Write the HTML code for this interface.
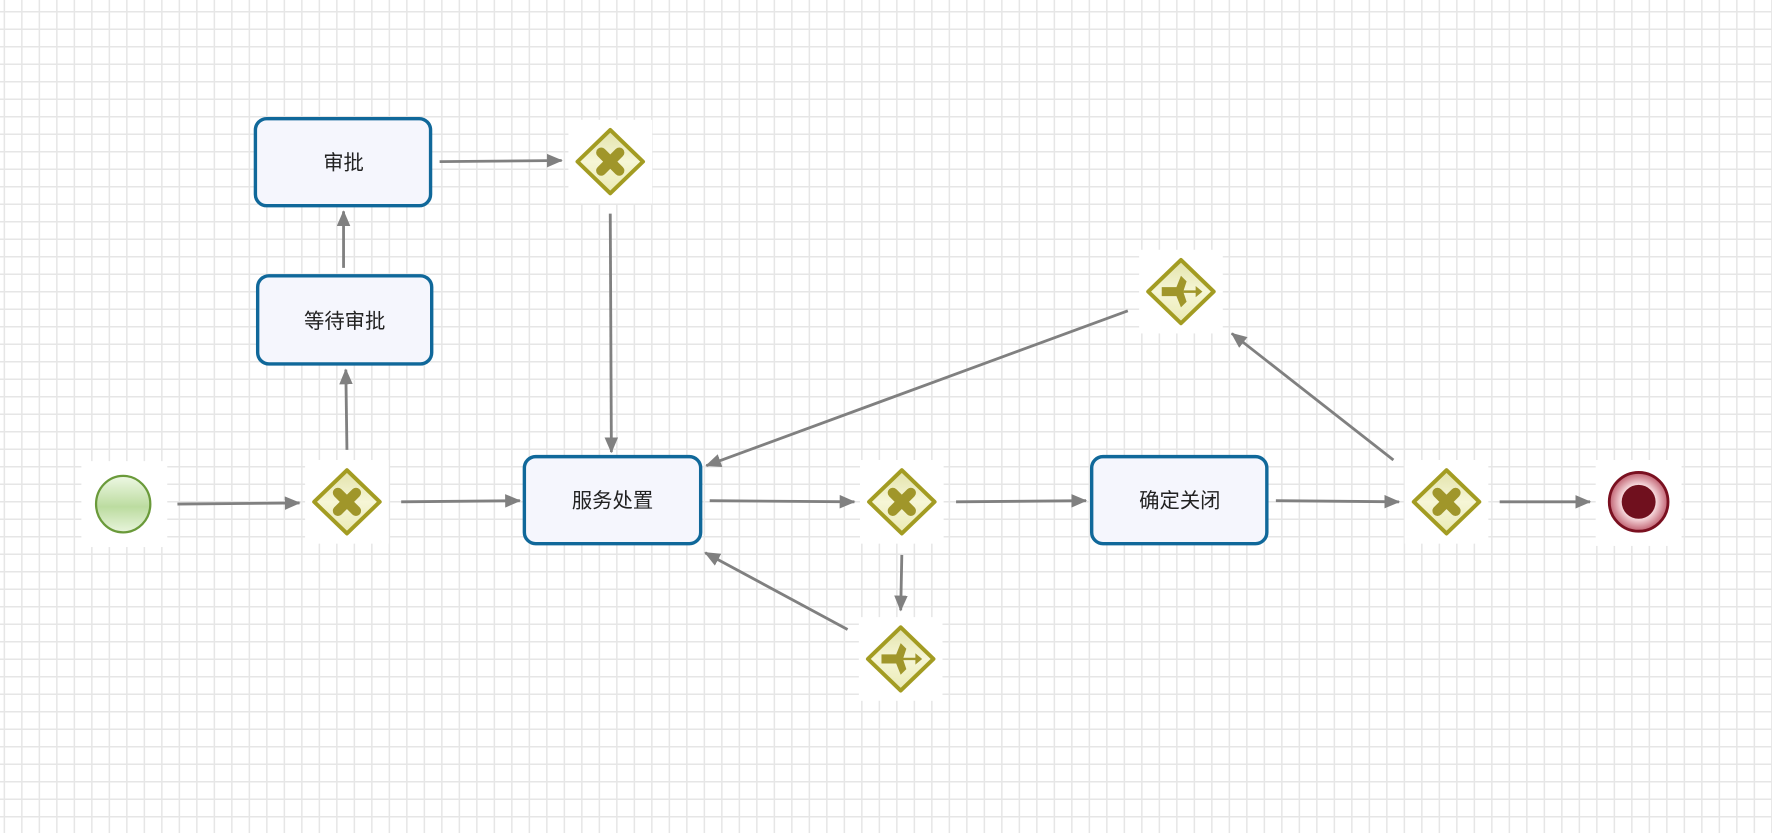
<!DOCTYPE html>
<html><head><meta charset="utf-8"><style>
html,body{margin:0;padding:0;background:#fff;}
#c{position:relative;width:1772px;height:833px;overflow:hidden;
background-color:#fff;
background-image:linear-gradient(to right,#e6e6e6 1.5px,transparent 1.5px),linear-gradient(to bottom,#e6e6e6 1.5px,transparent 1.5px);
background-size:17.5px 17.5px;background-position:3.6px 11px;}
svg{position:absolute;left:0;top:0;}
text{font-family:"Liberation Sans","Noto Sans CJK SC",sans-serif;font-size:18px;fill:#222;}
</style></head><body><div id="c">
<svg width="1772" height="833" viewBox="0 0 1568 737" preserveAspectRatio="none">
<defs>
<linearGradient id="gw" x1="0" y1="0" x2="0" y2="1"><stop offset="0" stop-color="#e2e2aa"/><stop offset="0.5" stop-color="#f6f6d6"/><stop offset="1" stop-color="#eaeab4"/></linearGradient>
<linearGradient id="st" x1="0" y1="0" x2="0" y2="1"><stop offset="0" stop-color="#eef8e4"/><stop offset="0.55" stop-color="#bcdca0"/><stop offset="1" stop-color="#e8f4dc"/></linearGradient>
<radialGradient id="en" cx="0.5" cy="0.5" r="0.5"><stop offset="0.6" stop-color="#f4d4d8"/><stop offset="1" stop-color="#c06070"/></radialGradient>
<marker id="a" markerWidth="14" markerHeight="12" refX="13" refY="6" orient="auto" markerUnits="userSpaceOnUse"><path d="M0,0 L14,6 L0,12 Z" fill="#808080"/></marker>
<g id="gx"><rect x="-37" y="-37" width="74" height="74" fill="#fff"/><path d="M0,-28 L29,0 L0,28 L-29,0 Z" fill="url(#gw)" stroke="#a39c22" stroke-width="3.5" stroke-linejoin="round"/><path d="M-8,-8 L8,8 M8,-8 L-8,8" stroke="#a0962a" stroke-width="9" stroke-linecap="round"/></g>
<g id="ge"><rect x="-37" y="-37" width="74" height="74" fill="#fff"/><path d="M0,-28 L29,0 L0,28 L-29,0 Z" fill="url(#gw)" stroke="#a39c22" stroke-width="3.5" stroke-linejoin="round"/><path d="M-17,-4 L-4,-4 L0,-14 L5,-9 L2,0 L5,9 L0,14 L-4,4 L-17,4 Z" fill="#a0962a"/><path d="M2,0 L16,0" stroke="#a0962a" stroke-width="2.2"/><path d="M13,-5 L19,0 L13,5 Z" fill="#a0962a"/></g>
</defs>
<g stroke="#808080" stroke-width="2.5" fill="none" marker-end="url(#a)">
<line x1="157" y1="446" x2="265" y2="445"/>
<line x1="355" y1="444" x2="460" y2="443"/>
<line x1="307" y1="398" x2="306" y2="327"/>
<line x1="304" y1="237" x2="304" y2="187"/>
<line x1="389" y1="143" x2="497" y2="142"/>
<line x1="540" y1="189" x2="541" y2="400"/>
<line x1="628" y1="443" x2="756" y2="444"/>
<line x1="846" y1="444" x2="961" y2="443"/>
<line x1="1129" y1="443" x2="1238" y2="444"/>
<line x1="1327" y1="444" x2="1407" y2="444"/>
<line x1="1233" y1="407" x2="1090" y2="295"/>
<line x1="998" y1="275" x2="625" y2="412"/>
<line x1="798" y1="491" x2="797" y2="540"/>
<line x1="750" y1="557" x2="624" y2="489"/>
</g>
<rect x="72" y="408" width="76" height="76" fill="#fff"/>
<ellipse cx="109" cy="446" rx="24" ry="25" fill="url(#st)" stroke="#6a9a3a" stroke-width="2"/>
<rect x="1412" y="407" width="76" height="76" fill="#fff"/>
<ellipse cx="1450" cy="444" rx="26" ry="26" fill="url(#en)" stroke="#7a1020" stroke-width="2.5"/>
<ellipse cx="1450" cy="444" rx="15" ry="15" fill="#70101e"/>
<use href="#gx" x="307" y="444"/>
<use href="#gx" x="540" y="143"/>
<use href="#gx" x="798" y="444"/>
<use href="#gx" x="1280" y="444"/>
<use href="#ge" x="1045" y="258"/>
<use href="#ge" x="797" y="583"/>
<g fill="#f5f6fd" stroke="#10689a" stroke-width="3">
<rect x="226" y="105" width="155" height="77" rx="10"/>
<rect x="228" y="244" width="154" height="78" rx="10"/>
<rect x="464" y="404" width="156" height="77" rx="10"/>
<rect x="966" y="404" width="155" height="77" rx="10"/>
</g>
<g text-anchor="middle">
<text x="304" y="150">审批</text>
<text x="305" y="290">等待审批</text>
<text x="542" y="449">服务处置</text>
<text x="1044" y="449">确定关闭</text>
</g>
</svg></div></body></html>
